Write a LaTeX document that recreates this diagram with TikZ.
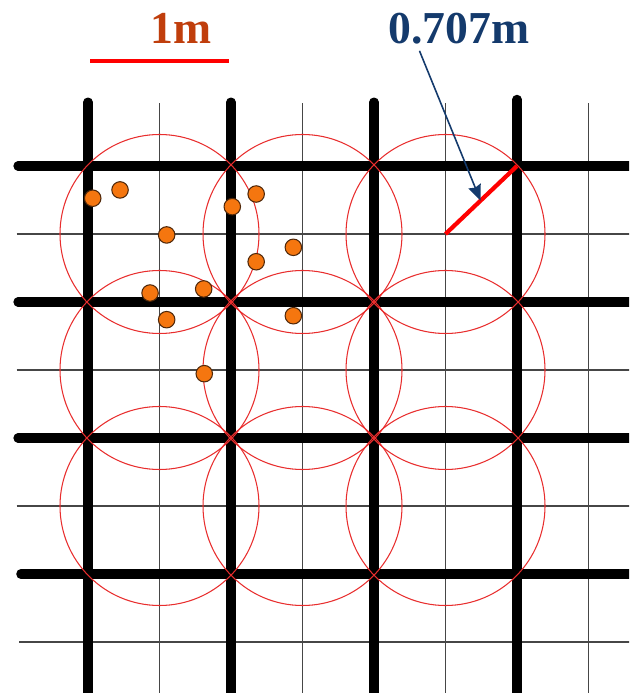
\documentclass[tikz,border=0pt]{standalone}
\usepackage{fontspec}
\setmainfont{Liberation Serif}
\usetikzlibrary{
  calc,
  positioning,
  arrows.meta}
\definecolor{gridgray}{RGB}{70,70,70}
\definecolor{ringred}{RGB}{232,45,45}
\definecolor{seedorange}{RGB}{245,118,15}
\definecolor{seededge}{RGB}{80,40,10}
\definecolor{labelbrown}{RGB}{192,62,12}
\definecolor{labelblue}{RGB}{20,58,108}

\begin{document}
\begin{tikzpicture}[
  x=2.86cm, y=2.72cm,
  >={Stealth[length=9pt,width=7.5pt,inset=1pt]},
  biggrid/.style={line width=5.2pt,line cap=round,color=black},
  smallgrid/.style={line width=0.9pt,color=gridgray},
  ring/.style={line width=0.6pt,color=ringred},
  redbar/.style={line width=2.4pt,color=red},
  seed/.style={circle,draw=seededge,line width=0.6pt,fill=seedorange,inner sep=0pt,minimum size=0.33cm},
  lbl/.style={font=\fontsize{26}{30}\selectfont\bfseries,anchor=base}
]%
  \useasboundingbox (-0.6154,-0.875) rectangle (3.7832,4.2206);
  \clip (-0.6154,-0.875) rectangle (3.7832,4.2206);

  % thin grid
  \draw[smallgrid] (0.5,3.46) -- (0.5,-0.9);
  \draw[smallgrid] (1.5,3.46) -- (1.5,-0.9);
  \draw[smallgrid] (2.5,3.46) -- (2.5,-0.9);
  \draw[smallgrid] (3.5,3.46) -- (3.5,-0.9);
  \draw[smallgrid] (-0.50,2.5)  -- (3.8,2.5);
  \draw[smallgrid] (-0.50,1.5)  -- (3.8,1.5);
  \draw[smallgrid] (-0.50,0.5)  -- (3.8,0.5);
  \draw[smallgrid] (-0.48,-0.5) -- (3.8,-0.5);

  % thick grid
  \draw[biggrid] (0,3.47) -- (0,-0.9);
  \draw[biggrid] (1,3.47) -- (1,-0.9);
  \draw[biggrid] (2,3.47) -- (2,-0.9);
  \draw[biggrid] (3,3.49) -- (3,-0.9);
  \draw[biggrid] (-0.49,3) -- (3.8,3);
  \draw[biggrid] (-0.49,2) -- (3.8,2);
  \draw[biggrid] (-0.49,1) -- (3.8,1);
  \draw[biggrid] (-0.47,0) -- (3.8,0);

  % coverage rings
  \draw[ring] (0.5,2.5) circle (1.99cm);
  \draw[ring] (1.5,2.5) circle (1.99cm);
  \draw[ring] (2.5,2.5) circle (1.99cm);
  \draw[ring] (0.5,1.5) circle (1.99cm);
  \draw[ring] (1.5,1.5) circle (1.99cm);
  \draw[ring] (2.5,1.5) circle (1.99cm);
  \draw[ring] (0.5,0.5) circle (1.99cm);
  \draw[ring] (1.5,0.5) circle (1.99cm);
  \draw[ring] (2.5,0.5) circle (1.99cm);

  % samples
  \node[seed] (d1)  at (0.033,2.763) {};
  \node[seed] (d2)  at (0.224,2.824) {};
  \node[seed] (d3)  at (0.550,2.493) {};
  \node[seed] (d4)  at (1.009,2.701) {};
  \node[seed] (d5)  at (1.176,2.794) {};
  \node[seed] (d6)  at (1.436,2.402) {};
  \node[seed] (d7)  at (1.176,2.296) {};
  \node[seed] (d8)  at (0.809,2.096) {};
  \node[seed] (d9)  at (0.434,2.066) {};
  \node[seed] (d10) at (0.550,1.870) {};
  \node[seed] (d11) at (1.436,1.899) {};
  \node[seed] (d12) at (0.813,1.473) {};

  % scale bar and radius
  \coordinate (s0) at (0.015,3.77);
  \coordinate (s1) at (0.985,3.77);
  \draw[redbar] (s0) -- (s1);
  \node[lbl,color=labelbrown] (lblm) at (0.65,3.897) {1m};

  \coordinate (cen) at (2.5,2.5);
  \coordinate (cor) at (3,3);
  \coordinate (rtip) at ($(cen)!0.49!(cor)$);
  \draw[redbar] (cen) -- (cor);
  \node[lbl,color=labelblue] (lblr) at (2.594,3.897) {0.707m};
  \draw[->,line width=0.9pt,color=labelblue] ($(lblr.south west)+(0.26,0)$) -- (rtip);

\end{tikzpicture}
\end{document}
